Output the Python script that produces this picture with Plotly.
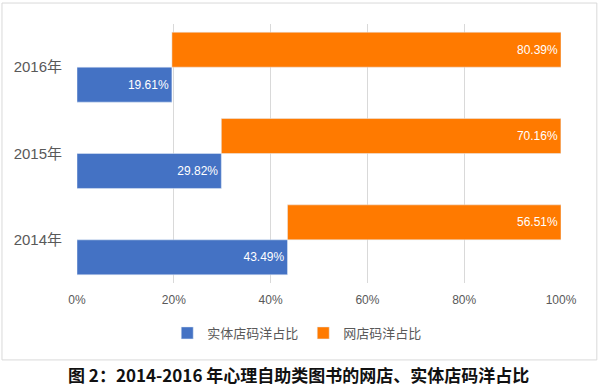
import plotly.graph_objects as go

years = ["2014年", "2015年", "2016年"]
offline = [43.49, 29.82, 19.61]
online = [56.51, 70.16, 80.39]
x_ticks = [0, 20, 40, 60, 80, 100]
caption = "图 2：2014-2016 年心理自助类图书的网店、实体店码洋占比"

BLUE = "#4472C4"
ORANGE = "#FF7A00"
FONT = "Liberation Sans, Noto Sans CJK SC, sans-serif"

fig = go.Figure()
fig.add_trace(go.Bar(
    y=years, x=offline, orientation="h", name="实体店码洋占比",
    marker=dict(color=BLUE),
    text=[f"{v:.2f}%" for v in offline], textposition="inside",
    insidetextanchor="end", textfont=dict(color="white", size=12, family=FONT),
))
fig.add_trace(go.Bar(
    y=years, x=online, base=offline, orientation="h", name="网店码洋占比",
    marker=dict(color=ORANGE),
    text=[f"{v:.2f}%" for v in online], textposition="inside",
    insidetextanchor="end", textfont=dict(color="white", size=12, family=FONT),
))

fig.update_layout(
    width=600, height=387,
    margin=dict(l=77, r=39, t=24, b=104),
    paper_bgcolor="white", plot_bgcolor="white",
    barmode="group", bargap=0.19, bargroupgap=0,
    font=dict(family=FONT, color="#595959"),
    xaxis=dict(range=[0, 100], tickvals=x_ticks, ticktext=[f"{v}%" for v in x_ticks],
               showgrid=True, gridcolor="#D9D9D9", gridwidth=1, zeroline=False,
               showline=False, tickfont=dict(size=12, color="#595959"), ticks="",
               ticklabelstandoff=8),
    yaxis=dict(showgrid=False, zeroline=False, showline=False, ticks="",
               tickfont=dict(size=15, color="#595959"), ticklabelstandoff=14),
    legend=dict(orientation="h", x=0.455, xanchor="center", y=-0.193, yanchor="middle",
                font=dict(size=13, color="#595959"), itemwidth=30),
    showlegend=True,
    shapes=[dict(type="rect", xref="paper", yref="paper",
                 x0=-0.155, x1=1.074, y0=-0.297, y1=1.081,
                 line=dict(color="#D9D9D9", width=1), layer="below")],
    annotations=[dict(text=f"<b>{caption}</b>", xref="paper", yref="paper",
                      x=0.458, y=-0.355, xanchor="center", yanchor="middle",
                      showarrow=False,
                      font=dict(size=17, color="#111111", family="Noto Sans CJK SC, sans-serif"))],
)

fig.write_html("out.html", config={"displayModeBar": False},
               post_script="document.body.style.margin='0';document.body.style.overflow='hidden';")
